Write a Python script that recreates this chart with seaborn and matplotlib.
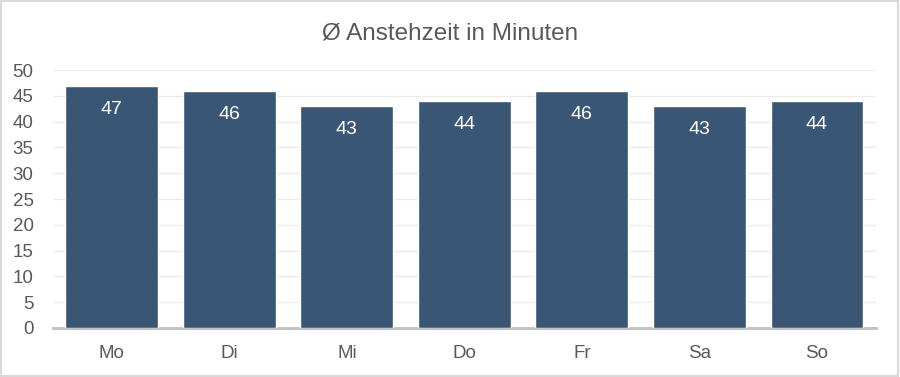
import matplotlib
matplotlib.use('Agg')
import matplotlib.pyplot as plt
import seaborn as sns
import pandas as pd

# data
days = ['Mo', 'Di', 'Mi', 'Do', 'Fr', 'Sa', 'So']
minutes = [47, 46, 43, 44, 46, 43, 44]

df = pd.DataFrame({'Tag': days, 'Minuten': minutes})

sns.set_style('white')
plt.rcParams['font.family'] = ['Liberation Sans', 'DejaVu Sans']

fig = plt.figure(figsize=(9, 3.77), dpi=100)
ax = fig.add_axes([0.059, 0.130, 0.914, 0.684])

sns.barplot(data=df, x='Tag', y='Minuten', color='#3A5675', saturation=1,
            width=0.79, ax=ax, zorder=3)

ax.set_ylim(0, 50)
ax.set_yticks(range(0, 51, 5))
ax.yaxis.grid(True, color='#EBEBEB', linewidth=1, zorder=0)
ax.set_axisbelow(True)
ax.set_xlabel('')
ax.set_ylabel('')
for s in ['top', 'right', 'left']:
    ax.spines[s].set_visible(False)
ax.spines['bottom'].set_color('#BFBFBF')
ax.spines['bottom'].set_linewidth(2)
ax.tick_params(axis='both', length=0, labelsize=13.5, colors='#595959')
ax.tick_params(axis='x', pad=12)
ax.tick_params(axis='y', pad=14)

for c in ax.containers:
    ax.bar_label(c, labels=[str(v) for v in minutes], label_type='edge',
                 padding=-23, color='white', fontsize=14)

fig.text(0.5, 0.912, 'Ø Anstehzeit in Minuten', ha='center', va='center',
         fontsize=17.5, color='#595959')

fig.patches.append(plt.Rectangle((0.001, 0.002), 0.997, 0.995, transform=fig.transFigure,
                                 fill=False, edgecolor='#D9D9D9', linewidth=1.5))

fig.savefig('out.png', dpi=100, facecolor='white')
